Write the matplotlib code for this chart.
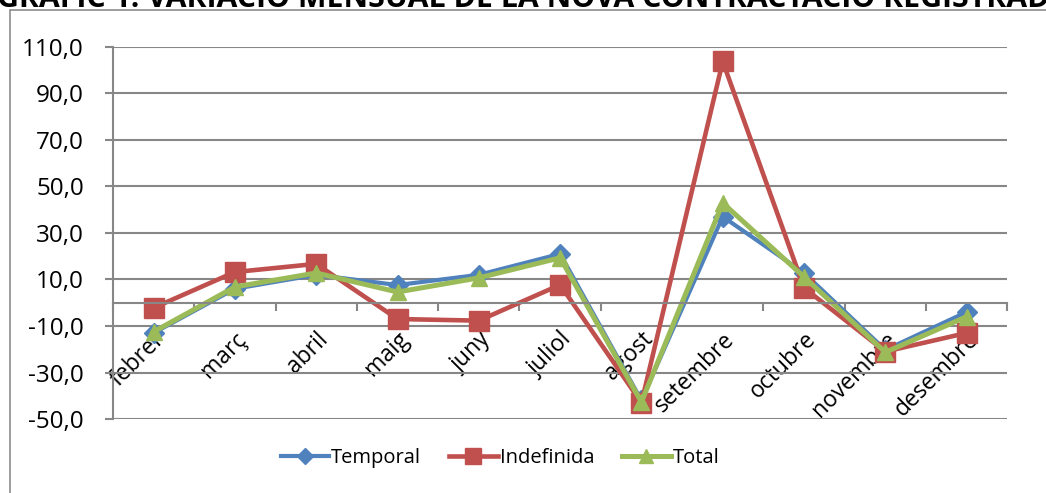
import numpy as np
import matplotlib
matplotlib.use("Agg")
from matplotlib import pyplot as plt
from matplotlib.patches import Rectangle
from matplotlib.ticker import FuncFormatter, FixedLocator
from matplotlib.transforms import ScaledTranslation

plt.rcParams['font.family'] = ['Open Sans', 'DejaVu Sans']

TITLE = "GRÀFIC 1: VARIACIÓ MENSUAL DE LA NOVA CONTRACTACIÓ REGISTRADA"
months = ["febrer", "març", "abril", "maig", "juny", "juliol", "agost",
          "setembre", "octubre", "novembre", "desembre"]
temporal = [-13.0, 6.0, 12.0, 7.6, 12.0, 21.0, -42.0, 37.0, 12.8, -20.3, -4.0]
indefinida = [-2.2, 13.2, 16.7, -7.0, -7.7, 7.7, -43.0, 103.7, 6.4, -21.0, -13.0]
total = [-12.5, 6.8, 12.8, 4.6, 10.7, 19.3, -42.7, 42.9, 11.1, -21.3, -6.0]
y_ticks = np.arange(-50, 111, 20)

BLUE = "#4F81BD"
RED = "#C0504D"
GREEN = "#9BBB59"
GRID = "#878787"

fig = plt.figure(figsize=(10.46, 4.93), dpi=100)
ax = fig.add_axes([0.108, 0.150, 0.855, 0.755])

# outer chart frame, runs off the right and bottom edges
fig.patches.append(Rectangle((10 / 1046, -0.1), 1.2, 1 - 10 / 493 + 0.1,
                             transform=fig.transFigure, fill=False,
                             edgecolor="#8c8c8c", linewidth=1.2))
fig.text(-0.003, 1 - 7 / 493, TITLE, fontsize=21.8, fontweight="bold",
         va="baseline", ha="left")

x = np.arange(len(months))
ax.plot(x, temporal, color=BLUE, lw=3.0, marker="D", ms=10, label="Temporal")
ax.plot(x, indefinida, color=RED, lw=3.3, marker="s", ms=14, label="Indefinida")
ax.plot(x, total, color=GREEN, lw=3.6, marker="^", ms=12, label="Total")

ax.set_xlim(-0.5, len(months) - 0.5)
ax.set_ylim(-50, 110)
ax.set_yticks(y_ticks)
ax.yaxis.set_major_formatter(FuncFormatter(lambda v, p: f"{v:.1f}".replace(".", ",")))
ax.grid(axis="y", color=GRID, lw=1.5)
ax.set_axisbelow(True)

for side in ("top", "right"):
    ax.spines[side].set_visible(False)
ax.spines["left"].set_color(GRID)
ax.spines["left"].set_linewidth(1.5)
ax.spines["bottom"].set_position(("data", 0))
ax.spines["bottom"].set_color(GRID)
ax.spines["bottom"].set_linewidth(1.5)

ax.xaxis.set_major_locator(FixedLocator(np.arange(-0.5, len(months), 1.0)))
ax.xaxis.set_minor_locator(FixedLocator(x))
ax.set_xticklabels([""] * (len(months) + 1))
ax.set_xticklabels(months, minor=True)
ax.tick_params(axis="x", which="major", length=6, width=1.5, color=GRID)
ax.tick_params(axis="x", which="minor", length=0, pad=24, labelsize=16.5)
shift = ScaledTranslation(8 / 100, 0, fig.dpi_scale_trans)
for lab in ax.get_xticklabels(minor=True):
    lab.set_rotation(45)
    lab.set_ha("right")
    lab.set_va("center")
    lab.set_rotation_mode("anchor")
    lab.set_transform(lab.get_transform() + shift)
ax.tick_params(axis="y", length=6, width=1.5, color=GRID, pad=15, labelsize=17.5)

fig.legend(*ax.get_legend_handles_labels(), loc="center",
           bbox_to_anchor=(500 / 1046, 1 - 458 / 493), ncol=3, frameon=False,
           fontsize=14.5, handlelength=2.4, handletextpad=0.1, columnspacing=1.4,
           markerscale=0.85)

fig.savefig("out.png", dpi=100)
